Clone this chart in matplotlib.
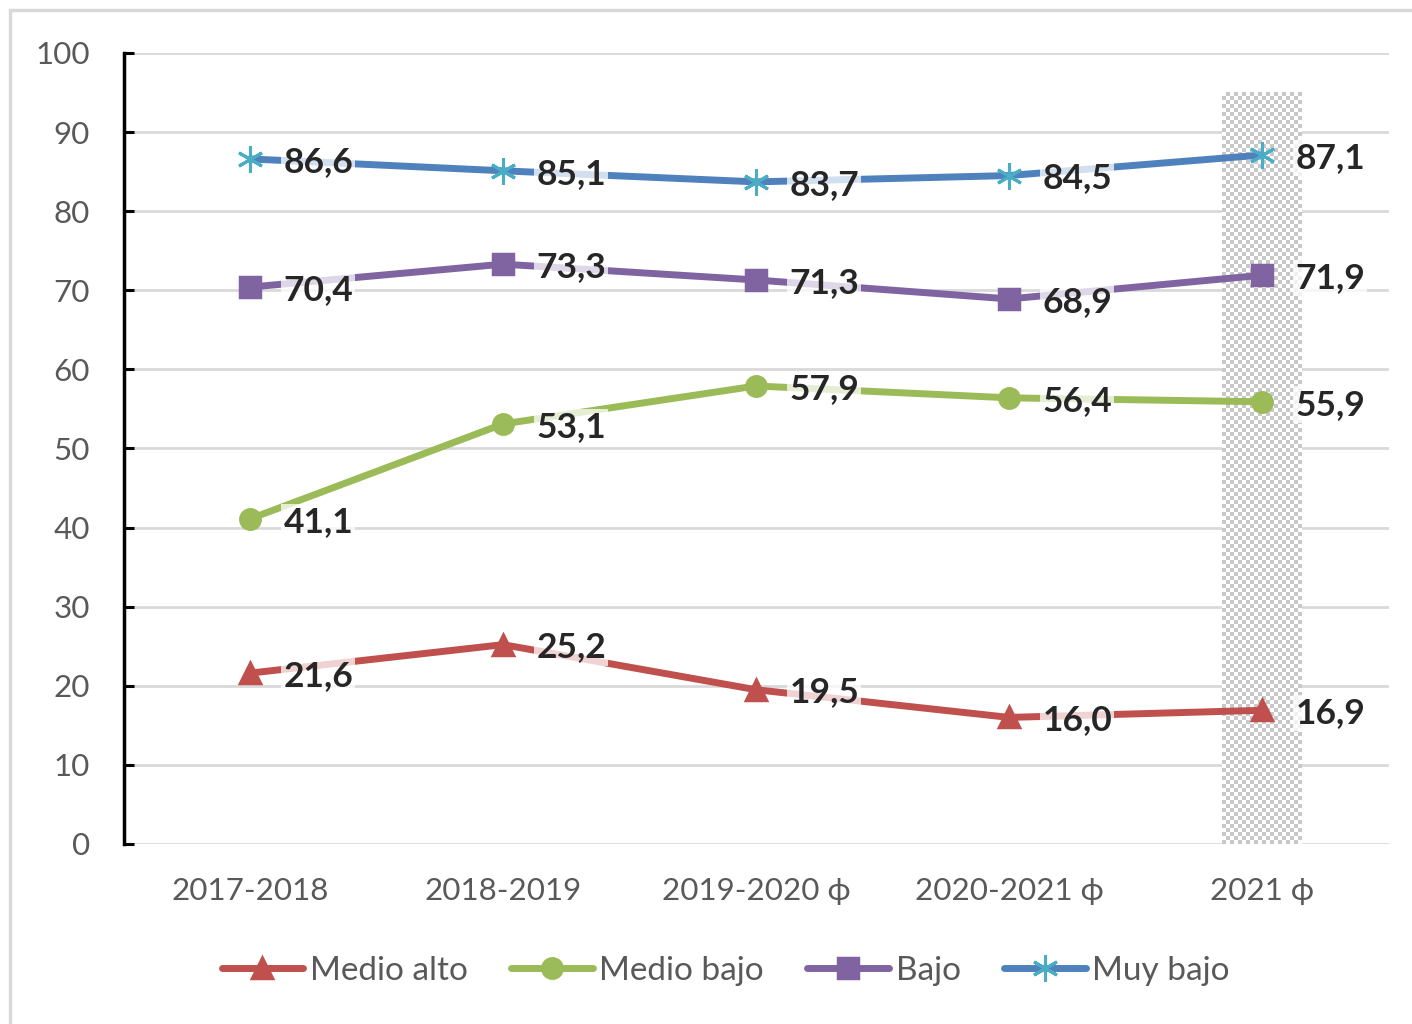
import matplotlib.pyplot as plt
import matplotlib.patches as mpatches
import numpy as np

# datos
periodos = ['2017-2018', '2018-2019', '2019-2020 ϕ', '2020-2021 ϕ', '2021 ϕ']
medio_alto = [21.6, 25.2, 19.5, 16.0, 16.9]
medio_bajo = [41.1, 53.1, 57.9, 56.4, 55.9]
bajo = [70.4, 73.3, 71.3, 68.9, 71.9]
muy_bajo = [86.6, 85.1, 83.7, 84.5, 87.1]
yticks = [0, 10, 20, 30, 40, 50, 60, 70, 80, 90, 100]

fuente = ['Lato', 'DejaVu Sans']
plt.rcParams['font.family'] = fuente

fig = plt.figure(figsize=(14.12, 10.24), dpi=100)
ax = fig.add_axes([0.0875, 0.1758, 0.8959, 0.7725])

# marco exterior gris
fig.patches.append(mpatches.Rectangle((10/1412, -0.05), 1.1, 1.05 - 10/1024, transform=fig.transFigure,
                                      fill=False, edgecolor='#d9d9d9', linewidth=2.5, clip_on=False))

x = np.arange(len(periodos))

# banda sombreada (cuadriculado) para 2021
n_cols, n_rows = 20, 188
cheq = (np.indices((n_rows, n_cols)).sum(axis=0) % 2).astype(float)
ax.imshow(cheq, cmap=plt.matplotlib.colors.ListedColormap(['#ffffff', '#c8c8c8']),
          extent=(x[-1] - 0.158, x[-1] + 0.158, 0, 95), aspect='auto',
          interpolation='nearest', zorder=1)

series = [
    ('Medio alto', medio_alto, '#c0504d', '^', '#c0504d', 15, 2.5),
    ('Medio bajo', medio_bajo, '#9bbb59', 'o', '#9bbb59', 14, 2.5),
    ('Bajo', bajo, '#8064a2', 's', '#8064a2', 14, 2.5),
    ('Muy bajo', muy_bajo, '#4f81bd', (6, 2, 0), '#4bacc6', 19, 2.2),
]

for nombre, vals, color, marker, mcolor, ms, mew in series:
    ax.plot(x, vals, color=color, linewidth=5, marker=marker, markersize=ms,
            markerfacecolor=mcolor, markeredgecolor=mcolor, markeredgewidth=mew,
            label=nombre, zorder=3, solid_capstyle='round')
    for xi, v in zip(x, vals):
        ax.annotate(f'{v:.1f}'.replace('.', ','), (xi, v), xytext=(24, -2),
                    textcoords='offset points', ha='left', va='center',
                    fontsize=25.5, fontweight='bold', color='#262626', zorder=4,
                    bbox=dict(boxstyle='square,pad=0.06', facecolor='white',
                              edgecolor='none', alpha=0.75))

ax.set_xlim(-0.5, 4.5)
ax.set_ylim(0, 100)
ax.set_yticks(yticks)
ax.set_xticks(x)
ax.set_xticklabels(periodos)
ax.grid(axis='y', color='#d9d9d9', linewidth=2, zorder=0)
ax.set_axisbelow(True)

for lado in ['top', 'right', 'bottom']:
    ax.spines[lado].set_visible(False)
ax.spines['left'].set_linewidth(2.5)
ax.spines['left'].set_color('black')

ax.tick_params(axis='y', direction='in', length=7, width=2.2, color='black',
               labelsize=22.6, labelcolor='#595959', pad=24)
ax.tick_params(axis='x', length=0, labelsize=22.6, labelcolor='#595959', pad=24)

fig.legend(loc='center', bbox_to_anchor=(0.514, 0.052), ncol=4, frameon=False,
           fontsize=24, labelcolor='#595959', handlelength=2.45, handletextpad=0.2,
           columnspacing=1.3)

fig.savefig('out.png', dpi=100)
